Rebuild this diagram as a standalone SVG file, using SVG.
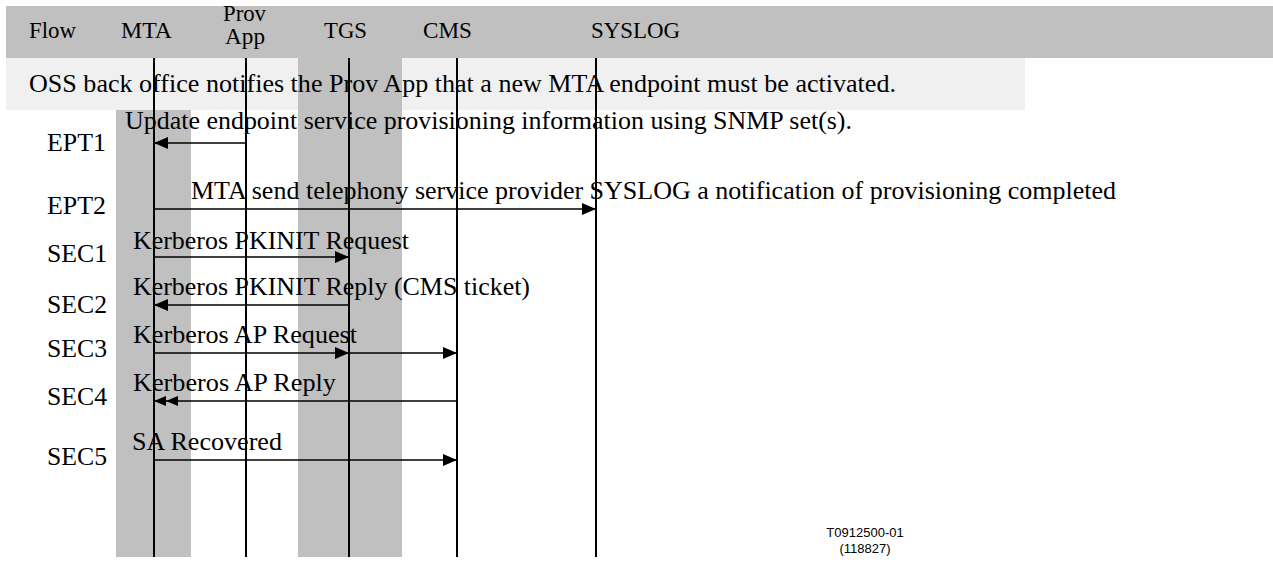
<svg xmlns="http://www.w3.org/2000/svg" width="1273" height="581" viewBox="0 0 1273 581">
<style>
text{font-family:"Liberation Serif","Times New Roman",serif;fill:#000}
.hd{font-size:22.5px}
.bd{font-size:25.5px}
.ft{font-family:"Liberation Sans",Arial,sans-serif;font-size:13px;text-anchor:middle}
.life{stroke:#000;stroke-width:2}
.msg{stroke:#000;stroke-width:1.7;fill:none}
.col{fill:#c0c0c0}
</style>
<defs>
<marker id="ah" markerUnits="userSpaceOnUse" markerWidth="14" markerHeight="12" refX="14" refY="6" orient="auto"><path d="M0,0 L14,6 L0,12 z" fill="#000"/></marker>
<marker id="ah2" markerUnits="userSpaceOnUse" markerWidth="24" markerHeight="10" refX="24" refY="5" orient="auto"><path d="M0,0 L12,5 L0,10 z M12,0 L24,5 L12,10 z" fill="#000"/></marker>
</defs>
<g id="background">
<rect x="6" y="6" width="1267" height="52" fill="#c0c0c0"/>
<rect x="6" y="58" width="1019" height="52" fill="#f0f0f0"/>
<rect class="col" x="116" y="110" width="75" height="447"/>
<rect class="col" x="298" y="58" width="104" height="499"/>
</g>
<g id="note">
<text class="bd" x="29" y="92" textLength="867" lengthAdjust="spacingAndGlyphs">OSS back office notifies the Prov App that a new MTA endpoint must be activated.</text>
</g>
<g id="flow-col"><text class="hd" x="29" y="38" textLength="47" lengthAdjust="spacingAndGlyphs">Flow</text></g>
<g id="mta"><text class="hd" x="121" y="38" textLength="51" lengthAdjust="spacingAndGlyphs">MTA</text><line class="life" x1="154" y1="58" x2="154" y2="557"/></g>
<g id="provapp"><text class="hd" x="223" y="21" textLength="43" lengthAdjust="spacingAndGlyphs">Prov</text><text class="hd" x="225" y="44" textLength="40" lengthAdjust="spacingAndGlyphs">App</text><line class="life" x1="246" y1="58" x2="246" y2="557"/></g>
<g id="tgs"><text class="hd" x="324" y="38" textLength="43" lengthAdjust="spacingAndGlyphs">TGS</text><line class="life" x1="349" y1="58" x2="349" y2="557"/></g>
<g id="cms"><text class="hd" x="423" y="38" textLength="49" lengthAdjust="spacingAndGlyphs">CMS</text><line class="life" x1="457" y1="58" x2="457" y2="557"/></g>
<g id="syslog"><text class="hd" x="591" y="38" textLength="89" lengthAdjust="spacingAndGlyphs">SYSLOG</text><line class="life" x1="596" y1="58" x2="596" y2="557"/></g>
<g id="row-labels">
<text class="bd" x="47" y="151" textLength="59" lengthAdjust="spacingAndGlyphs">EPT1</text>
<text class="bd" x="47" y="214" textLength="59" lengthAdjust="spacingAndGlyphs">EPT2</text>
<text class="bd" x="47" y="262" textLength="60" lengthAdjust="spacingAndGlyphs">SEC1</text>
<text class="bd" x="47" y="313" textLength="60" lengthAdjust="spacingAndGlyphs">SEC2</text>
<text class="bd" x="47" y="357" textLength="60" lengthAdjust="spacingAndGlyphs">SEC3</text>
<text class="bd" x="47" y="405" textLength="60" lengthAdjust="spacingAndGlyphs">SEC4</text>
<text class="bd" x="47" y="465" textLength="60" lengthAdjust="spacingAndGlyphs">SEC5</text>
</g>
<g id="connectors">
<line class="msg" x1="246" y1="143" x2="154" y2="143" marker-end="url(#ah)"/>
<line class="msg" x1="154" y1="209" x2="596" y2="209" marker-end="url(#ah)"/>
<line class="msg" x1="154" y1="257" x2="349" y2="257" marker-end="url(#ah)"/>
<line class="msg" x1="349" y1="305" x2="154" y2="305" marker-end="url(#ah)"/>
<line class="msg" x1="154" y1="353" x2="349" y2="353" marker-end="url(#ah)"/>
<line class="msg" x1="349" y1="353" x2="457" y2="353" marker-end="url(#ah)"/>
<line class="msg" x1="457" y1="401" x2="154" y2="401" marker-end="url(#ah2)"/>
<line class="msg" x1="154" y1="460" x2="457" y2="460" marker-end="url(#ah)"/>
</g>
<g id="connector-labels">
<text class="bd" x="125" y="129" textLength="727" lengthAdjust="spacingAndGlyphs">Update endpoint service provisioning information using SNMP set(s).</text>
<text class="bd" x="191" y="199" textLength="925" lengthAdjust="spacingAndGlyphs">MTA send telephony service provider SYSLOG a notification of provisioning completed</text>
<text class="bd" x="133" y="249" textLength="276" lengthAdjust="spacingAndGlyphs">Kerberos PKINIT Request</text>
<text class="bd" x="133" y="295" textLength="397" lengthAdjust="spacingAndGlyphs">Kerberos PKINIT Reply (CMS ticket)</text>
<text class="bd" x="133" y="343" textLength="224" lengthAdjust="spacingAndGlyphs">Kerberos AP Request</text>
<text class="bd" x="133" y="391" textLength="203" lengthAdjust="spacingAndGlyphs">Kerberos AP Reply</text>
<text class="bd" x="132" y="450" textLength="150" lengthAdjust="spacingAndGlyphs">SA Recovered</text>
</g>
<g id="footer">
<text class="ft" x="865" y="537">T0912500-01</text>
<text class="ft" x="865" y="553">(118827)</text>
</g>
</svg>
